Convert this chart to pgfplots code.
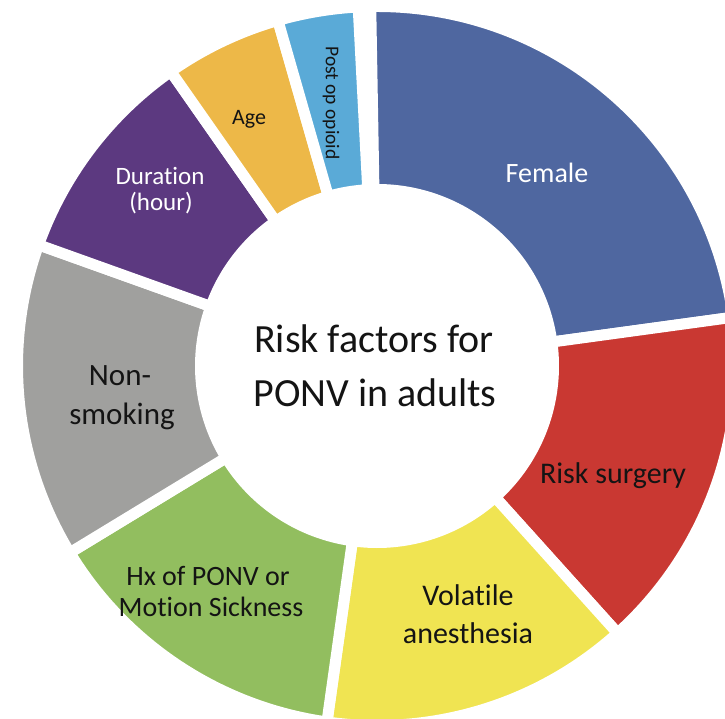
\documentclass[border=0pt]{standalone}
\usepackage{pgfplots}
\usepackage{pgfplotstable}
\pgfplotsset{compat=1.18}
\usepackage{fontspec}
\setmainfont{Carlito}[Ligatures={NoCommon}]

\definecolor{cFemale}{RGB}{79,103,160}
\definecolor{cSurgery}{RGB}{201,56,50}
\definecolor{cVolatile}{RGB}{240,228,82}
\definecolor{cHx}{RGB}{146,190,95}
\definecolor{cSmoke}{RGB}{160,160,158}
\definecolor{cDur}{RGB}{92,57,128}
\definecolor{cAge}{RGB}{237,184,72}
\definecolor{cOpioid}{RGB}{90,170,215}
\definecolor{txt}{RGB}{20,20,20}

% sector boundaries in degrees (counter-clockwise from 3 o'clock)
\pgfplotstableread{
name     start   end    col
Female    7.8    91.0   cFemale
Surgery -48.0     7.8   cSurgery
Volatile -98.0  -48.0   cVolatile
Hx      -148.7  -98.0   cHx
Smoking  160.3  211.3   cSmoke
Duration 125.0  160.3   cDur
Age      106.0  125.0   cAge
Opioid    93.0  106.0   cOpioid
}\sectors

\begin{document}
\begin{tikzpicture}
\useasboundingbox (0,0) rectangle (725pt,718pt);
\begin{axis}[
    x=1pt, y=1pt,
    xmin=0, xmax=725, ymin=0, ymax=718,
    hide axis,
    clip=true,
    anchor=south west,
    at={(0,0)},
]
\pgfplotstablegetrowsof{\sectors}
\pgfmathtruncatemacro\nrows{\pgfplotsretval-1}
\pgfplotsforeachungrouped \i in {0,...,\nrows}{%
    \pgfplotstablegetelem{\i}{start}\of\sectors \let\sa\pgfplotsretval
    \pgfplotstablegetelem{\i}{end}\of\sectors \let\sb\pgfplotsretval
    \pgfplotstablegetelem{\i}{col}\of\sectors \let\sc\pgfplotsretval
    \edef\temp{\noexpand\filldraw[fill=\sc, draw=white, line width=11pt]
        (axis cs:377,352) ++(\sa:359.5pt)
        arc[start angle=\sa, end angle=\sb, radius=359.5pt]
        -- ++(\sb:-183pt)
        arc[start angle=\sb, end angle=\sa, radius=176.5pt] -- cycle;}
    \temp
}

% centre title
\node[anchor=base, text=txt, font=\fontsize{40}{48}\selectfont] at (axis cs:374,365) {Risk factors for};
\node[anchor=base, text=txt, font=\fontsize{40}{48}\selectfont] at (axis cs:375,311) {PONV in adults};

% sector labels
\node[anchor=base, text=white, font=\fontsize{28}{34}\selectfont] at (axis cs:547,535) {Female};
\node[anchor=base, text=txt, font=\fontsize{30}{36}\selectfont] at (axis cs:613,235) {Risk surgery};
\node[anchor=base, text=txt, font=\fontsize{30}{36}\selectfont] at (axis cs:468,113) {Volatile};
\node[anchor=base, text=txt, font=\fontsize{30}{36}\selectfont] at (axis cs:468,75) {anesthesia};
\node[anchor=base, text=txt, font=\fontsize{28}{34}\selectfont] at (axis cs:208,133) {Hx of PONV or};
\node[anchor=base, text=txt, font=\fontsize{28}{34}\selectfont] at (axis cs:211,102) {Motion Sickness};
\node[anchor=base, text=txt, font=\fontsize{31}{36}\selectfont] at (axis cs:120,332) {Non-};
\node[anchor=base, text=txt, font=\fontsize{31}{36}\selectfont] at (axis cs:122,293) {smoking};
\node[anchor=base, text=white, font=\fontsize{25}{30}\selectfont] at (axis cs:160,533) {Duration};
\node[anchor=base, text=white, font=\fontsize{25}{30}\selectfont] at (axis cs:161,507) {(hour)};
\node[anchor=base, text=txt, font=\fontsize{22}{26}\selectfont] at (axis cs:249,593) {Age};
\node[rotate=-90, text=txt, font=\fontsize{19.5}{23}\selectfont] at (axis cs:331,615) {Post op opioid};
\end{axis}
\end{tikzpicture}
\end{document}
